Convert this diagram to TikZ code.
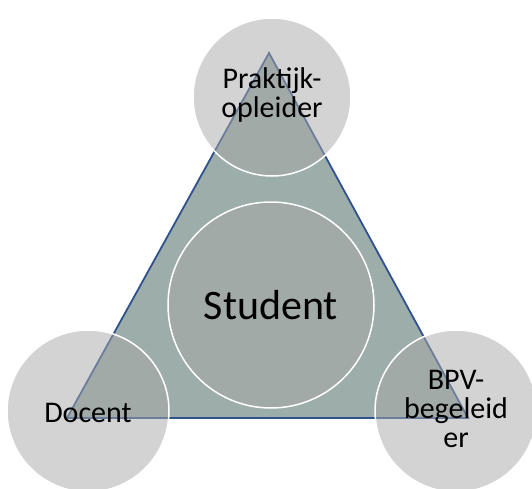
\documentclass[tikz,border=0pt]{standalone}
\usepackage{fontspec}
\setmainfont{Carlito}
\definecolor{trifill}{RGB}{156,173,170}
\definecolor{triline}{RGB}{47,82,143}
\definecolor{circfill}{RGB}{168,168,168}
\begin{document}
\begin{tikzpicture}[x=1pt,y=-1pt,
  bubble/.style={circle,fill=circfill,fill opacity=0.5,draw=white,line width=1.5pt,inner sep=0pt},
  lbl/.style={inner sep=0pt,align=center,text=black,font=\fontsize{30}{29}\selectfont}]
\useasboundingbox (0,0) rectangle (532,489);
\coordinate (apex) at (269,53);
\coordinate (bl) at (67,418);
\coordinate (br) at (468,418);
\draw[fill=trifill,draw=triline,line width=1.8pt,line join=miter] (apex) -- (bl) -- (br) -- cycle;
\node[bubble,minimum size=158pt] (ctop) at (272,97) {};
\node[bubble,minimum size=162pt] (cleft) at (88,411) {};
\node[bubble,minimum size=162pt] (cright) at (456,411) {};
\node[bubble,minimum size=206pt] (cmid) at (271,305) {};
\node[lbl] (tprak) at (272,95) {Praktijk-\\opleider};
\node[lbl] (tdoc) at (88,413) {Docent};
\node[lbl] (tbpv) at (456,409) {BPV-\\begeleid\\er};
\node[lbl,font=\fontsize{42}{42}\selectfont] (tstud) at (271,305) {Student};
\end{tikzpicture}
\end{document}
